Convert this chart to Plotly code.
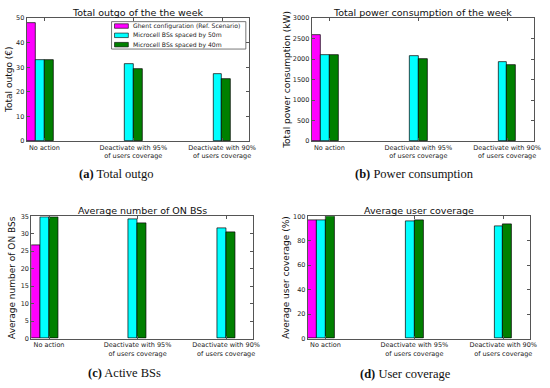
import plotly.graph_objects as go

# ---- data ----
categories = ["No action", "Deactivate with 95%<br>of users coverage", "Deactivate with 90%<br>of users coverage"]
series_names = ["Ghent configuration (Ref. Scenario)", "Microcell BSs spaced by 50m", "Microcell BSs spaced by 40m"]
series_colors = ["#FF00FF", "#00FFFF", "#008000"]

outgo_ghent = [47.8]
outgo_50m = [32.9, 31.3, 27.4]
outgo_40m = [32.8, 29.3, 25.1]

power_ghent = [2595]
power_50m = [2105, 2080, 1925]
power_40m = [2105, 2010, 1860]

onbs_ghent = [26.7]
onbs_50m = [34.6, 34.1, 31.5]
onbs_40m = [34.6, 33.1, 30.5]

cov_ghent = [97.0]
cov_50m = [97.0, 96.0, 92.2]
cov_40m = [99.7, 97.0, 93.3]

titles = ["Total outgo of the the week", "Total power consumption of the week",
          "Average number of ON BSs", "Average user coverage"]
ytitles = ["Total outgo (€)", "Total power consumption (kW)",
           "Average number of ON BSs", "Average user coverage (%)"]
captions = ["<b>(a)</b> Total outgo", "<b>(b)</b> Power consumption",
            "<b>(c)</b> Active BSs", "<b>(d)</b> User coverage"]
yranges = [[0, 50], [0, 3000], [0, 35], [0, 100]]
ydticks = [10, 500, 5, 20]

panels = [
    (outgo_ghent, outgo_50m, outgo_40m),
    (power_ghent, power_50m, power_40m),
    (onbs_ghent, onbs_50m, onbs_40m),
    (cov_ghent, cov_50m, cov_40m),
]

W, H = 550, 388
# pixel boxes (left, right, top, bottom)
boxes = [
    (27, 252, 14.3, 140),
    (315.7, 540.7, 14.3, 140),
    (31.7, 256, 216.7, 341.7),
    (311.7, 536.7, 216.7, 341.7),
]
bar_w = 0.1

fig = go.Figure()
annotations = []
shapes = []
tickfont = dict(family="DejaVu Sans", size=6.5, color="#222")
axcolor = "#555"

for p, (box, data) in enumerate(zip(boxes, panels)):
    l, r, t, b = box
    xa = "x" if p == 0 else f"x{p+1}"
    ya = "y" if p == 0 else f"y{p+1}"
    xkey = "xaxis" if p == 0 else f"xaxis{p+1}"
    ykey = "yaxis" if p == 0 else f"yaxis{p+1}"
    for k, vals in enumerate(data):
        xs = [i + k * bar_w for i in range(len(vals))]
        fig.add_trace(go.Bar(
            x=xs, y=vals, width=bar_w, offset=0,
            marker=dict(color=series_colors[k], line=dict(color="#000", width=0.7)),
            name=series_names[k], showlegend=False, xaxis=xa, yaxis=ya,
        ))
    fig.update_layout(**{
        xkey: dict(domain=[l / W, r / W], anchor=ya, range=[0, 2.5],
                   tickvals=[i + 0.2 for i in range(len(categories))], ticktext=categories,
                   ticks="inside", ticklen=3, tickcolor=axcolor, showline=True, linecolor=axcolor,
                   linewidth=1, mirror="ticks", showgrid=False, zeroline=False,
                   tickfont=tickfont, fixedrange=True),
        ykey: dict(domain=[1 - b / H, 1 - t / H], anchor=xa, range=yranges[p],
                   dtick=ydticks[p], tick0=0,
                   ticks="inside", ticklen=3, tickcolor=axcolor, showline=True, linecolor=axcolor,
                   linewidth=1, mirror="ticks", showgrid=False, zeroline=False,
                   tickfont=tickfont, fixedrange=True),
    })
    cx = (l + r) / 2
    annotations.append(dict(text=titles[p], x=cx / W, y=1 - (t - 5.5) / H, xref="paper", yref="paper",
                            xanchor="center", yanchor="middle", showarrow=False,
                            font=dict(family="DejaVu Sans", size=9.5, color="#111")))
    ytx = [8.5, 290, 12.7, 290][p]
    annotations.append(dict(text=ytitles[p], x=ytx / W, y=1 - ((t + b) / 2) / H, xref="paper", yref="paper",
                            xanchor="center", yanchor="middle", textangle=-90, showarrow=False,
                            font=dict(family="DejaVu Sans", size=9, color="#111")))
    capx = [118, 420, 126, 411][p]
    capy = [174, 174, 377, 377.7][p]
    annotations.append(dict(text=captions[p], x=capx / W, y=1 - capy / H, xref="paper", yref="paper",
                            xanchor="center", yanchor="middle", showarrow=False,
                            font=dict(family="Liberation Serif", size=12.5, color="#111")))

# legend for panel (a), drawn inside its plot area
lg_l, lg_r, lg_t, lg_b = 113, 249, 18, 46
shapes.append(dict(type="rect", xref="paper", yref="paper", x0=lg_l / W, x1=lg_r / W,
                   y0=1 - lg_b / H, y1=1 - lg_t / H, line=dict(color="#555", width=0.8),
                   fillcolor="white"))
for k, name in enumerate(series_names):
    yc = 22.5 + k * 9.5
    shapes.append(dict(type="rect", xref="paper", yref="paper", x0=116 / W, x1=130 / W,
                       y0=1 - (yc + 2.3) / H, y1=1 - (yc - 2.3) / H,
                       line=dict(color="#000", width=0.6), fillcolor=series_colors[k]))
    annotations.append(dict(text=name, x=133 / W, y=1 - yc / H, xref="paper", yref="paper",
                            xanchor="left", yanchor="middle", showarrow=False,
                            font=dict(family="DejaVu Sans", size=6.1, color="#222")))

fig.update_layout(width=W, height=H, margin=dict(l=0, r=0, t=0, b=0),
                  paper_bgcolor="white", plot_bgcolor="white",
                  annotations=annotations, shapes=shapes, bargap=0, barmode="overlay")

fig.write_html("out.html", config={"displayModeBar": False},
               post_script="document.body.style.margin='0';document.body.style.overflow='hidden';")
